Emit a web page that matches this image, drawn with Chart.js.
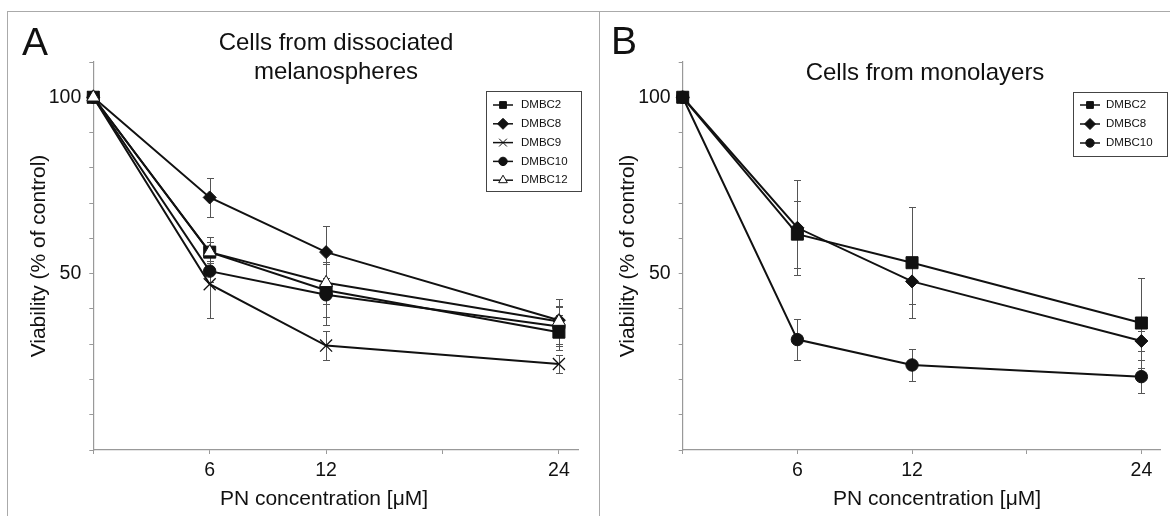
<!DOCTYPE html>
<html lang="en">
<head>
<meta charset="UTF-8">
<title>PN viability</title>
<script src="https://cdn.jsdelivr.net/npm/chart.js"></script>
<style>
    body {
        margin: 0;
        width: 1170px;
        height: 516px;
        overflow: hidden;
        position: relative;
        background: #fff;
        color: #111;
        font-family: "Liberation Sans", Arial, sans-serif;
    }
    .frame { position: absolute; left: 7px; top: 11px; width: 1200px; height: 540px; border-left: 1px solid #aaa; border-top: 1px solid #aaa; }
    .divider { position: absolute; left: 599px; top: 11px; width: 1px; height: 540px; background: #aaa; }
    canvas { position: absolute; top: 0; }
    #chartA { left: 0; }
    #chartB { left: 600px; }
    .letter { position: absolute; font-size: 39px; line-height: 1; }
    .title { position: absolute; font-size: 24px; line-height: 29px; text-align: center; transform: translateX(-50%); white-space: nowrap; }
    .xtitle { position: absolute; font-size: 21px; line-height: 1; transform: translateX(-50%); white-space: nowrap; }
    .ytitle { position: absolute; font-size: 21px; line-height: 1; transform: translate(-50%, -50%) rotate(-90deg); white-space: nowrap; }
</style>
</head>
<body>
    <div class="frame"></div>
    <div class="divider"></div>
    <canvas id="chartA" width="599" height="516"></canvas>
    <canvas id="chartB" width="570" height="516"></canvas>

    <div class="letter" style="left:22px; top:22px;">A</div>
    <div class="letter" style="left:611px; top:21px;">B</div>
    <div class="title" style="left:336px; top:27px;">Cells from dissociated<br>melanospheres</div>
    <div class="title" style="left:925px; top:57px;">Cells from monolayers</div>
    <div class="ytitle" style="left:37px; top:256px;">Viability (% of control)</div>
    <div class="ytitle" style="left:626px; top:256px;">Viability (% of control)</div>
    <div class="xtitle" style="left:324px; top:487px;">PN concentration [μM]</div>
    <div class="xtitle" style="left:937px; top:487px;">PN concentration [μM]</div>

<script>
// x values (PN concentration, uM) and the labelled ticks
const concentrations = [0, 6, 12, 24];
const xTicks = [0, 6, 12, 18, 24];
const xTickLabels = [6, 12, 24];
const yTickLabels = [50, 100];

// A: cells from dissociated melanospheres (mean, +/- error)
const dmbc2A = [100, 56.1, 45.3, 33.4];
const dmbc2AErr = [0, 4.3, 7.5, 5];
const dmbc8A = [100, 71.6, 56.1, 36.8];
const dmbc8AErr = [0, 5.5, 7.3, 4];
const dmbc9A = [100, 47, 29.6, 24.4];
const dmbc9AErr = [0, 9.5, 4, 2.6];
const dmbc10A = [100, 50.7, 44, 35];
const dmbc10AErr = [0, 3, 8.7, 5.5];
const dmbc12A = [100, 56.1, 47.4, 36.4];
const dmbc12AErr = [0, 3, 6, 6.3];

// B: cells from monolayers
const dmbc2B = [100, 61.2, 53.1, 36];
const dmbc2BErr = [0, 9.5, 15.7, 12.8];
const dmbc8B = [100, 63, 47.8, 30.9];
const dmbc8BErr = [0, 13.5, 6.5, 2.7];
const dmbc10B = [100, 31.3, 24.1, 20.8];
const dmbc10BErr = [0, 5.7, 4.4, 4.6];

// marker look for each cell line
const markerStyles = {
    DMBC2:  { style: 'rect',     radius: 8.5, fill: '#111', legendRadius: 4.8 },
    DMBC8:  { style: 'rectRot',  radius: 6.5, fill: '#111', legendRadius: 5.5 },
    DMBC9:  { style: 'crossRot', radius: 8.5, fill: '#111', legendRadius: 5.5 },
    DMBC10: { style: 'circle',   radius: 6.2, fill: '#111', legendRadius: 4.2 },
    DMBC12: { style: 'triangle', radius: 7.5, fill: '#fff', legendRadius: 5 }
};

const FONT = '"Liberation Sans", Arial, sans-serif';

function makeDataset(label, values, errors, order) {
    const m = markerStyles[label];
    return {
        label: label,
        data: values.map((v, i) => ({ x: concentrations[i], y: v })),
        errors: errors,
        legendRadius: m.legendRadius,
        borderColor: '#111',
        borderWidth: 2,
        pointStyle: m.style,
        pointRadius: m.radius,
        pointHoverRadius: m.radius,
        pointBackgroundColor: m.fill,
        pointBorderColor: '#111',
        pointBorderWidth: m.style === 'crossRot' ? 1.3 : 1,
        tension: 0,
        clip: false,
        order: order
    };
}

// error bars go under the lines and markers
const errorBars = {
    id: 'errorBars',
    beforeDatasetsDraw(chart) {
        const ctx = chart.ctx;
        const xs = chart.scales.x, ys = chart.scales.y;
        ctx.save();
        ctx.strokeStyle = '#555';
        ctx.lineWidth = 1;
        chart.data.datasets.forEach(ds => {
            ds.errors.forEach((e, i) => {
                if (!e) return;
                const p = ds.data[i];
                const px = Math.round(xs.getPixelForValue(p.x)) + 0.5;
                const top = Math.round(ys.getPixelForValue(p.y + e)) + 0.5;
                const bot = Math.round(ys.getPixelForValue(p.y - e)) + 0.5;
                ctx.beginPath();
                ctx.moveTo(px, top); ctx.lineTo(px, bot);
                ctx.moveTo(px - 3.5, top); ctx.lineTo(px + 3.5, top);
                ctx.moveTo(px - 3.5, bot); ctx.lineTo(px + 3.5, bot);
                ctx.stroke();
            });
        });
        ctx.restore();
    }
};

// boxed legend with line + marker like the original figure
const markerLegend = {
    id: 'markerLegend',
    afterDraw(chart, args, opts) {
        const ctx = chart.ctx;
        ctx.save();
        ctx.strokeStyle = '#444';
        ctx.lineWidth = 1;
        ctx.strokeRect(opts.left + 0.5, opts.top + 0.5, opts.width, opts.height);
        ctx.font = '11.5px ' + FONT;
        ctx.textBaseline = 'middle';
        ctx.textAlign = 'left';
        chart.data.datasets.forEach((ds, i) => {
            const yy = opts.top + opts.firstRow + i * opts.rowGap;
            const cx = opts.left + opts.markerX;
            ctx.strokeStyle = '#111';
            ctx.lineWidth = 1.5;
            ctx.beginPath();
            ctx.moveTo(cx - 10, yy);
            ctx.lineTo(cx + 10, yy);
            ctx.stroke();
            ctx.fillStyle = ds.pointBackgroundColor;
            ctx.lineWidth = 1;
            Chart.helpers.drawPoint(ctx, {
                pointStyle: ds.pointStyle, radius: ds.legendRadius, borderWidth: 1, rotation: 0
            }, cx, yy);
            ctx.fillStyle = '#111';
            ctx.fillText(ds.label, opts.left + opts.textX, yy);
        });
        ctx.restore();
    }
};

function makeScales(yWidth) {
    const tickFont = { family: FONT, size: 19.5 };
    return {
        x: {
            type: 'linear',
            min: 0,
            max: 25,
            afterBuildTicks: s => { s.ticks = xTicks.map(v => ({ value: v })); },
            afterFit: s => { s.height = 66; },
            ticks: {
                autoSkip: false,
                maxRotation: 0,
                padding: 5,
                color: '#111',
                font: tickFont,
                callback: v => xTickLabels.includes(v) ? String(v) : ''
            },
            grid: { drawOnChartArea: false, tickLength: 4, color: '#999' },
            border: { color: '#999', width: 1.2 }
        },
        y: {
            min: 0,
            max: 110,
            afterFit: s => { s.width = yWidth; },
            ticks: {
                stepSize: 10,
                padding: 8,
                color: '#111',
                font: tickFont,
                callback: v => yTickLabels.includes(v) ? String(v) : ''
            },
            grid: { drawOnChartArea: false, tickLength: 4, color: '#999' },
            border: { color: '#999', width: 1.2 }
        }
    };
}

function makeChart(id, datasets, yWidth, rightPad, legendOpts) {
    return new Chart(document.getElementById(id), {
        type: 'line',
        data: { datasets: datasets },
        options: {
            responsive: false,
            animation: false,
            layout: { padding: { left: 0, right: rightPad, top: 62, bottom: 0 } },
            scales: makeScales(yWidth),
            plugins: {
                legend: { display: false },
                tooltip: { enabled: false },
                markerLegend: legendOpts
            }
        },
        plugins: [errorBars, markerLegend]
    });
}

makeChart('chartA', [
    makeDataset('DMBC2', dmbc2A, dmbc2AErr, 5),
    makeDataset('DMBC8', dmbc8A, dmbc8AErr, 4),
    makeDataset('DMBC9', dmbc9A, dmbc9AErr, 3),
    makeDataset('DMBC10', dmbc10A, dmbc10AErr, 2),
    makeDataset('DMBC12', dmbc12A, dmbc12AErr, 1)
], 93.3, 20.7, { left: 486, top: 91, width: 95, height: 100, firstRow: 14, rowGap: 18.8, markerX: 17, textX: 35 });

makeChart('chartB', [
    makeDataset('DMBC2', dmbc2B, dmbc2BErr, 1),
    makeDataset('DMBC8', dmbc8B, dmbc8BErr, 2),
    makeDataset('DMBC10', dmbc10B, dmbc10BErr, 3)
], 82.7, 1.7, { left: 473, top: 92, width: 94, height: 64, firstRow: 13, rowGap: 19, markerX: 17, textX: 33 });
</script>
</body>
</html>
